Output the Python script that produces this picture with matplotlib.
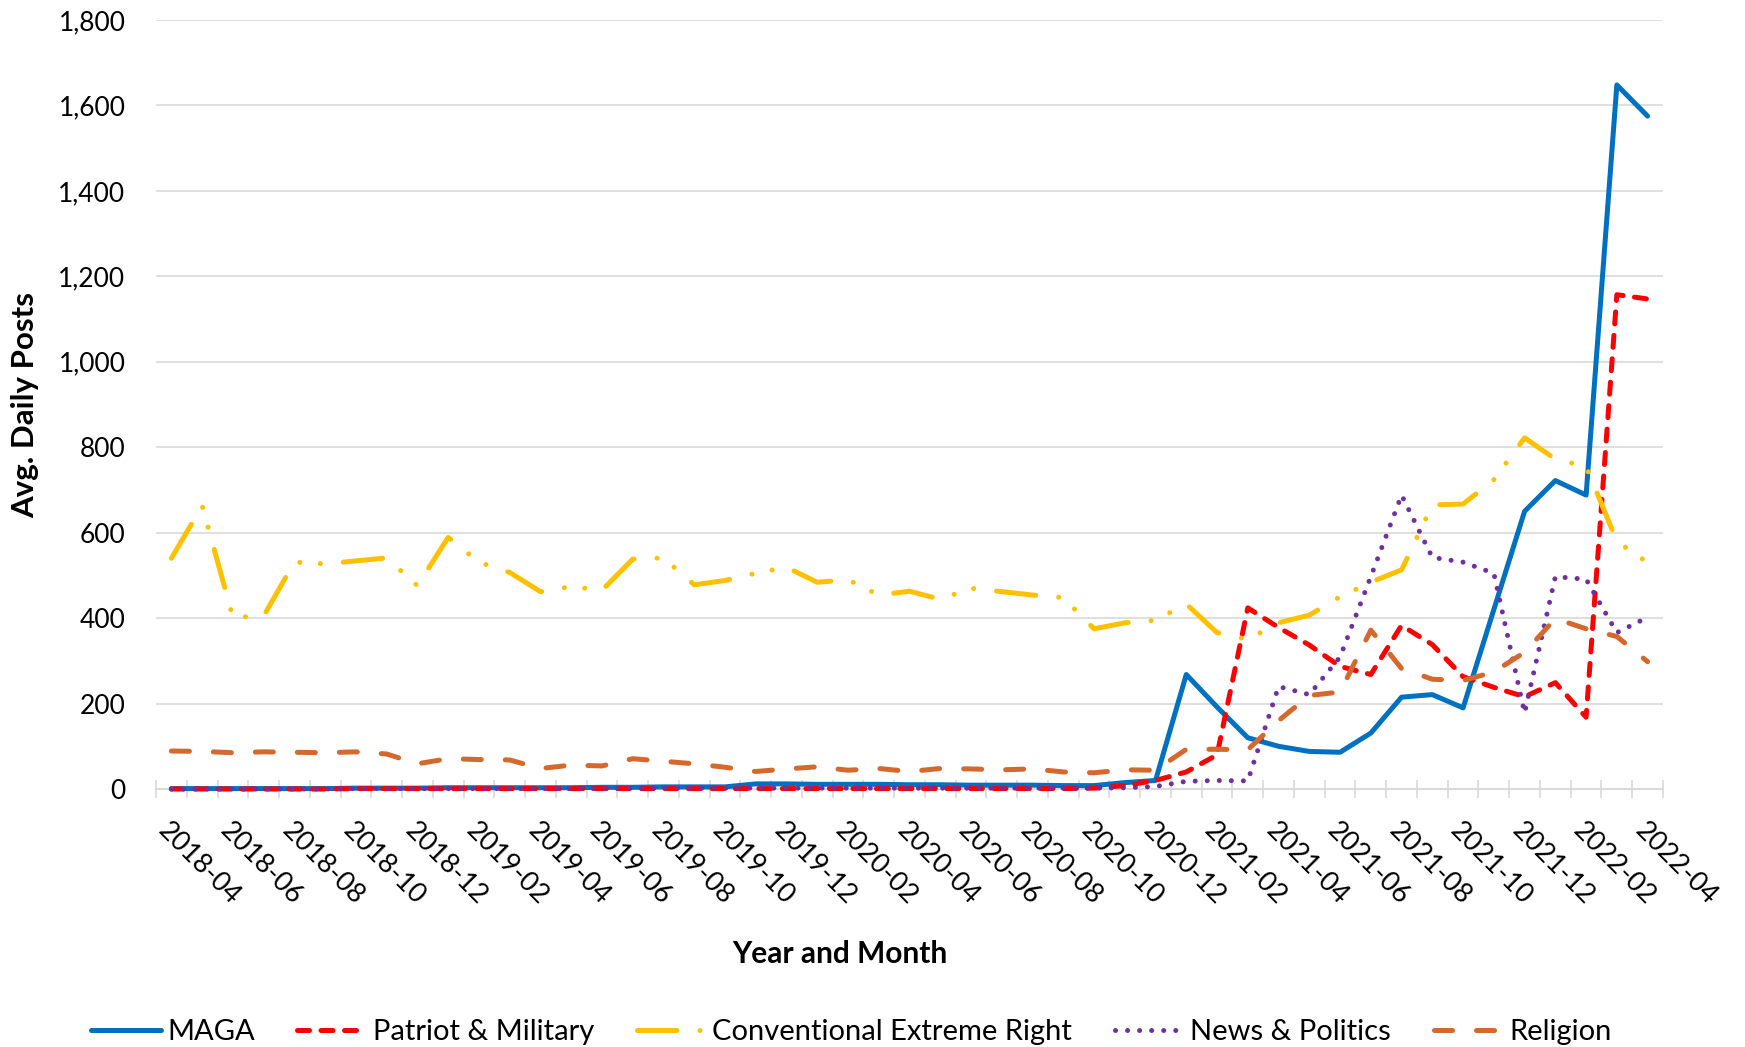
import matplotlib
matplotlib.use("Agg")
import matplotlib.pyplot as plt
from matplotlib.ticker import FuncFormatter, FixedLocator
from matplotlib.transforms import ScaledTranslation

plt.rcParams['font.family'] = ['Lato', 'DejaVu Sans']

# monthly categories 2018-04 .. 2022-04
months = []
for y in range(2018, 2023):
    for m in range(1, 13):
        if (y == 2018 and m < 4) or (y == 2022 and m > 4):
            continue
        months.append(f"{y}-{m:02d}")

maga = [1, 1, 1, 1, 1, 1, 2, 2, 2, 3, 3, 3, 3, 3, 4, 4, 5, 5, 5, 12,
        12, 11, 11, 11, 10, 10, 9, 9, 9, 8, 8, 15, 20, 268, 192, 120, 100, 88, 86, 131,
        215, 221, 190, 420, 650, 722, 688, 1648, 1575]
patriot = [0, 0, 0, 0, 0, 0, 1, 1, 1, 1, 1, 1, 1, 1, 1, 1, 1, 1, 1, 1,
           1, 1, 1, 1, 1, 1, 1, 1, 1, 1, 2, 8, 20, 40, 80, 424, 378, 337, 287, 268,
           383, 338, 263, 238, 216, 249, 168, 1157, 1147]
conventional = [540, 663, 402, 405, 531, 527, 534, 541, 476, 589, 531, 507, 462, 474, 465, 538, 541, 478, 488, 505,
                519, 484, 490, 454, 463, 444, 470, 462, 454, 448, 375, 389, 395, 433, 366, 350, 389, 407, 450, 484,
                513, 665, 667, 724, 822, 772, 755, 580, 530]
news = [0, 0, 0, 0, 0, 0, 1, 1, 1, 1, 1, 1, 1, 1, 1, 2, 2, 2, 2, 2,
        2, 2, 2, 2, 2, 2, 2, 2, 2, 2, 2, 3, 6, 18, 20, 19, 240, 221, 309, 497,
        688, 542, 531, 505, 178, 497, 491, 366, 402]
religion = [89, 88, 85, 87, 86, 85, 87, 82, 59, 71, 69, 68, 48, 56, 54, 71, 65, 59, 51, 41,
            47, 52, 44, 48, 41, 48, 47, 45, 47, 40, 38, 45, 44, 93, 93, 92, 160, 219, 227, 372,
            282, 257, 254, 274, 320, 399, 375, 357, 298]

x = list(range(len(months)))

fig = plt.figure(figsize=(17.45, 10.47), dpi=100)
ax = fig.add_axes([0.0894, 0.2464, 0.9530 - 0.0894, 0.9809 - 0.2464])

lw = 3.6
common = dict(lw=lw, clip_on=False, zorder=3)
ax.plot(x, maga, color='#0070C0', label='MAGA',
        solid_capstyle='round', solid_joinstyle='round', **common)
ax.plot(x, patriot, color='#FF0000', label='Patriot & Military',
        linestyle=(0, (2.4, 2.3)), dash_capstyle='round', dash_joinstyle='round', **common)
ax.plot(x, conventional, color='#FFC000', label='Conventional Extreme Right',
        linestyle=(0, (7.9, 4.6, 0.01, 4.1, 0.01, 4.6)), dash_capstyle='round', dash_joinstyle='round', **common)
ax.plot(x, news, color='#7030A0', label='News & Politics',
        linestyle=(0, (0.01, 2.4)), dash_capstyle='round', dash_joinstyle='round', **common)
ax.plot(x, religion, color='#D4682D', label='Religion',
        linestyle=(0, (3.6, 4.8)), dash_capstyle='round', dash_joinstyle='round', **common)

ax.set_xlim(-0.5, len(months) - 0.5)
ax.set_ylim(0, 1800)

ax.yaxis.set_major_locator(FixedLocator(range(0, 1801, 200)))
ax.yaxis.set_major_formatter(FuncFormatter(lambda v, p: f"{int(v):,}"))
ax.grid(axis='y', color='#D9D9D9', lw=1.2)
ax.set_axisbelow(True)

ax.set_xticks(x[::2])
ax.set_xticklabels(months[::2], rotation=-45, ha='left', va='top', rotation_mode='anchor')
ax.set_xticks([i - 0.5 for i in range(len(months) + 1)], minor=True)
shift = ScaledTranslation(6.5 / 72, 0, fig.dpi_scale_trans)
for lab in ax.get_xticklabels():
    lab.set_transform(lab.get_transform() + shift)

ax.tick_params(axis='y', length=0, pad=22, labelsize=19)
ax.tick_params(axis='x', which='major', length=0, pad=21, labelsize=19.5)
ax.tick_params(axis='x', which='minor', direction='inout', length=13, width=1.2, color='#D9D9D9')

for s in ['top', 'right', 'left']:
    ax.spines[s].set_visible(False)
ax.spines['bottom'].set_color('#D9D9D9')
ax.spines['bottom'].set_linewidth(1.5)

fig.text(25 / 1745, 1 - 405 / 1047, 'Avg. Daily Posts', rotation=90, ha='center', va='center',
         fontsize=22.5, fontweight='bold')
fig.text(840 / 1745, 1 - 954 / 1047, 'Year and Month', ha='center', va='center',
         fontsize=21.5, fontweight='bold')

fig.legend(loc='center', bbox_to_anchor=(0.488, 0.0143), ncol=5, frameon=False, fontsize=21,
           handlelength=2.4, handletextpad=0.2, columnspacing=1.45)

fig.savefig('out.png', dpi=100)
